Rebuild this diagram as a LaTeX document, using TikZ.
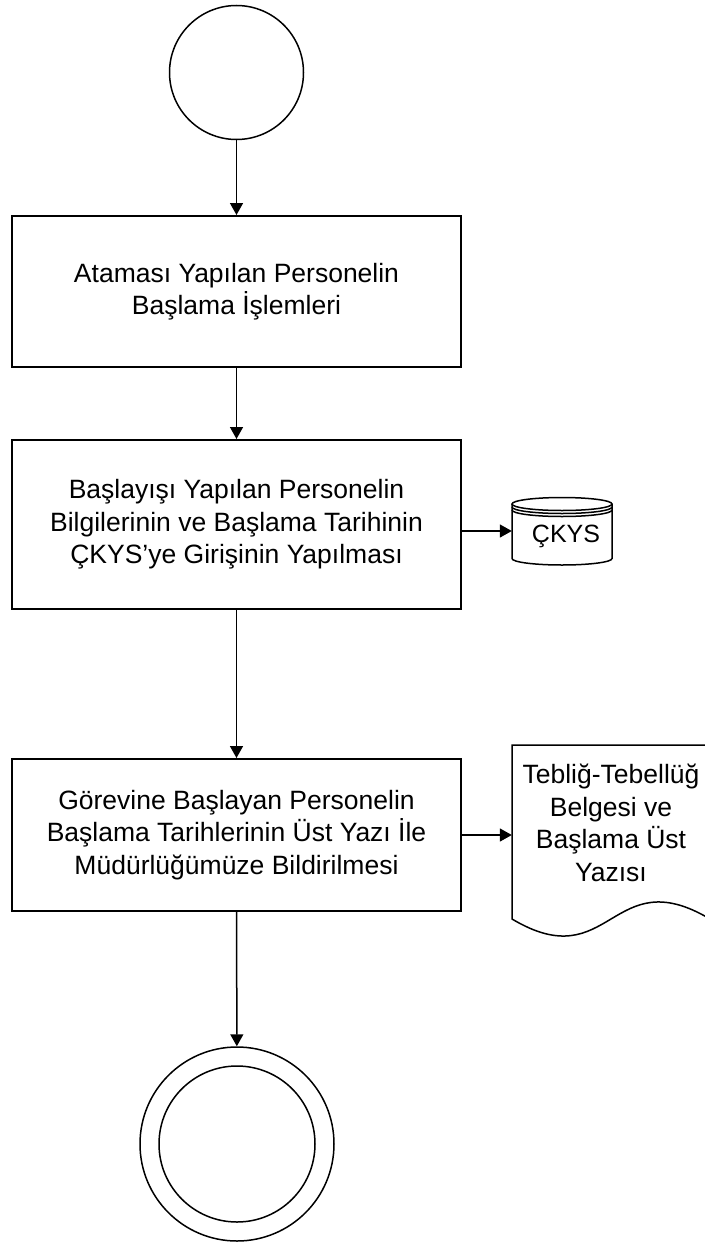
\documentclass[tikz,border=0pt]{standalone}
\usepackage{fontspec}
\setmainfont{Liberation Sans}
\usetikzlibrary{arrows.meta}
\begin{document}
\begin{tikzpicture}[x=1pt,y=-1pt,
  proc/.style={draw, line width=2pt, minimum width=449pt, align=center, font=\fontsize{26.5}{32.5}\selectfont, inner sep=0pt},
  arr/.style={line width=1.5pt, -{Triangle[length=12pt,width=13pt]}},
  circ/.style={draw, circle, line width=1.5pt, inner sep=0pt},
  shp/.style={line width=1.5pt},
  lbl/.style={align=center, inner sep=0pt, font=\fontsize{26.5}{32.5}\selectfont}]
\useasboundingbox (0,0) rectangle (704,1242);
% start
\node[circ, minimum size=134pt] (start) at (236.5,72.5) {};
% process boxes
\node[proc, minimum height=151pt] (b1) at (236.5,291.5) {Ataması Yapılan Personelin\\Başlama İşlemleri};
\node[proc, minimum height=169pt] (b2) at (236.5,524.5) {Başlayışı Yapılan Personelin\\Bilgilerinin ve Başlama Tarihinin\\ÇKYS’ye Girişinin Yapılması};
\node[proc, minimum height=152pt] (b3) at (236.5,835) {Görevine Başlayan Personelin\\Başlama Tarihlerinin Üst Yazı İle\\Müdürlüğümüze Bildirilmesi};
% end
\node[circ, minimum size=194pt] (end) at (237,1144) {};
\node[circ, minimum size=156pt] (endin) at (237,1144) {};
% database cylinder
\node[minimum width=100pt, minimum height=68pt, inner sep=0pt] (cyl) at (562,531) {};
\draw[shp, fill=white] (512,504) -- (512,558.5) arc[start angle=180,end angle=360,x radius=50pt,y radius=6.5pt] -- (612,504);
\draw[shp] (562,504) ellipse [x radius=50pt, y radius=6.5pt];
\draw[shp] (512,507) arc[start angle=180,end angle=360,x radius=50pt,y radius=6.5pt];
\draw[shp] (512,510) arc[start angle=180,end angle=360,x radius=50pt,y radius=6.5pt];
\node[inner sep=0pt, font=\fontsize{25}{29}\selectfont] (ckys) at (566,536) {ÇKYS};
% document
\node[minimum width=198pt, minimum height=174pt, inner sep=0pt] (doc) at (611,832) {};
\draw[shp] (710,919) -- (710,745) -- (512,745) -- (512,919) .. controls (611,978) and (611,860) .. (710,919);
\node[lbl] (doctext) at (611,823) {Tebliğ-Tebellüğ\\Belgesi ve\\Başlama Üst\\Yazısı};
% connectors
\draw[arr] (start) -- (b1);
\draw[arr] (b1) -- (b2);
\draw[arr] (b2) -- (b3);
\draw[arr] (b3) -- (end);
\draw[arr] (cyl.west -| b2.east) -- (cyl.west);
\draw[arr] (b3.east) -- (b3.east -| doc.west);
\end{tikzpicture}
\end{document}
